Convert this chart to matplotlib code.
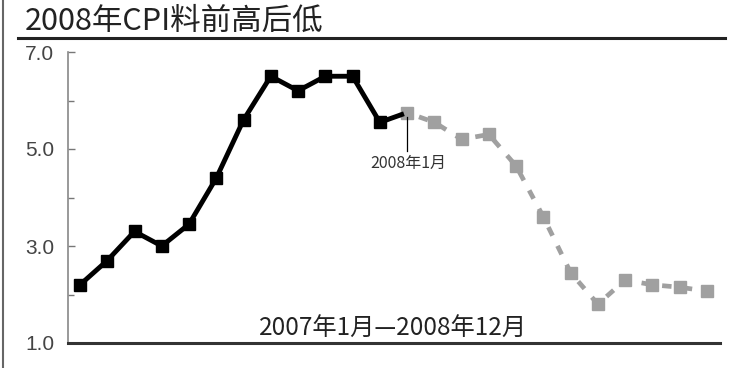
import matplotlib
matplotlib.use("Agg")
import matplotlib.pyplot as plt
from matplotlib.lines import Line2D

plt.rcParams['font.family'] = ['Noto Sans CJK SC', 'DejaVu Sans']

# CPI, 2007-01 .. 2007-12 (actual) and 2008-01 .. 2008-12 (forecast)
months_2007 = list(range(1, 13))
cpi_2007 = [2.2, 2.7, 3.3, 3.0, 3.45, 4.4, 5.6, 6.5, 6.2, 6.5, 6.5, 5.55]
months_2008 = list(range(13, 25))
cpi_2008 = [5.75, 5.55, 5.2, 5.3, 4.65, 3.6, 2.45, 1.8, 2.3, 2.2, 2.15, 2.07]

yticks = [1.0, 3.0, 5.0, 7.0]
yticks_minor = [2.0, 4.0, 6.0]

title = "2008年CPI料前高后低"
period_label = "2007年1月—2008年12月"
marker_label = "2008年1月"

fig = plt.figure(figsize=(7.33, 3.68), dpi=100)
ax = fig.add_axes([68 / 733, 25 / 368, 652 / 733, 291 / 368])

# forecast part, grey and broken
ax.plot([months_2007[-1]] + months_2008, [cpi_2007[-1]] + cpi_2008,
        color='#a0a0a0', lw=3.4, ls=(0, (2.0, 2.4)), zorder=2)
ax.plot(months_2008, cpi_2008, ls='none', marker='s', ms=8,
        color='#a0a0a0', zorder=3)
# link from last black point to first grey point
ax.plot([months_2007[-1], months_2008[0] - 0.2],
        [cpi_2007[-1], cpi_2008[0] - 0.04], color='black', lw=3.5, zorder=3)
ax.plot(months_2007, cpi_2007, color='black', lw=3.5, marker='s', ms=8.5,
        zorder=4)

# callout for 2008-01
ax.plot([months_2008[0], months_2008[0]], [cpi_2008[0] - 0.1, 4.95],
        color='black', lw=0.9, zorder=3)
ax.text(months_2008[0] + 0.05, 4.7, marker_label, ha='center', va='center',
        fontsize=11.5, color='#333333')

ax.text(12.5, 1.3, period_label, ha='center', va='center', fontsize=17.5,
        color='#222222')

ax.set_xlim(0.56, 24.48)
ax.set_ylim(1.0, 7.0)
ax.set_yticks(yticks)
ax.set_yticklabels([f"{v:.1f}" for v in yticks], family='Liberation Sans')
ax.set_yticks(yticks_minor, minor=True)
ax.set_xticks([])
ax.tick_params(axis='y', which='major', direction='in', length=5, width=1,
               color='#777777', labelsize=15, labelcolor='#444444', pad=10)
ax.tick_params(axis='y', which='minor', direction='in', length=4, width=1,
               color='#777777')

for side in ['top', 'right']:
    ax.spines[side].set_visible(False)
ax.spines['left'].set_color('#888888')
ax.spines['left'].set_linewidth(1.2)
ax.spines['bottom'].set_color('#333333')
ax.spines['bottom'].set_linewidth(2.2)

fig.text(25 / 733, 1 - 21 / 368, title, fontsize=22, color='#222222',
         ha='left', va='center')
fig.add_artist(Line2D([18 / 733, 725 / 733], [1 - 38 / 368, 1 - 38 / 368],
                      color='#222222', lw=2.2))
fig.add_artist(Line2D([2.5 / 733, 2.5 / 733], [0, 1], color='#666666', lw=1.5))

fig.savefig('out.png', dpi=100)
